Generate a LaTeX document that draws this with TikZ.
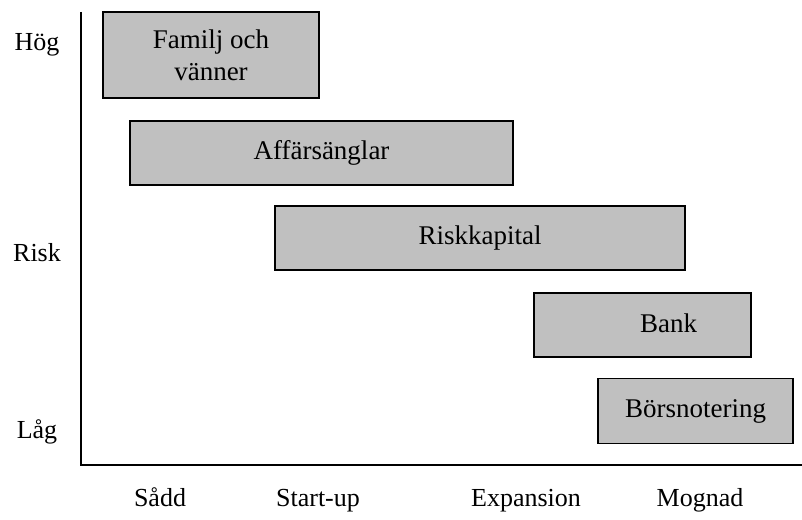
\documentclass[tikz,border=0pt]{standalone}
\usepackage{fontspec}
\setmainfont{Liberation Serif}
\begin{document}
\begin{tikzpicture}[x=1pt,y=-1pt,
  box/.style={draw=black, line width=1.5pt, fill=boxgray, inner sep=0pt, align=center, font=\fontsize{27}{31}\selectfont},
  lbl/.style={font=\fontsize{26}{31}\selectfont, inner sep=0pt, anchor=base},
  axis/.style={draw=black, line width=2pt}]
\definecolor{boxgray}{HTML}{C0C0C0}
\useasboundingbox (0,0) rectangle (802,519);
% axes
\coordinate (top) at (81,12);
\coordinate (orig) at (81,465);
\coordinate (right) at (802,465);
\draw[axis] (top) -- (orig) -- (right);
% boxes
\node[box, minimum width=216pt, minimum height=86pt] (famil) at (211,55) {\raisebox{1pt}{Familj och}\\vänner};
\node[box, minimum width=383pt, minimum height=64pt] (angel) at (321.5,153) {\raisebox{5pt}{Affärsänglar}};
\node[box, minimum width=410pt, minimum height=64pt] (risk) at (480,238) {\raisebox{4pt}{Riskkapital}};
\node[box, minimum width=217pt, minimum height=64pt] (bank) at (642.5,325) {\raisebox{3pt}{\hspace*{52pt}Bank}};
\node[box, minimum width=195pt, minimum height=65pt] (bors) at (695.5,411) {\raisebox{3pt}{Börsnotering}};
% y labels
\node[lbl] (hog) at (37,50) {Hög};
\node[lbl] (rsk) at (37,261) {Risk};
\node[lbl] (lag) at (37,438) {Låg};
% x labels
\node[lbl] (sadd) at (160,506) {Sådd};
\node[lbl] (start) at (318,506) {Start-up};
\node[lbl] (exp) at (526,506) {Expansion};
\node[lbl] (mog) at (700,506) {Mognad};
\end{tikzpicture}
\end{document}
